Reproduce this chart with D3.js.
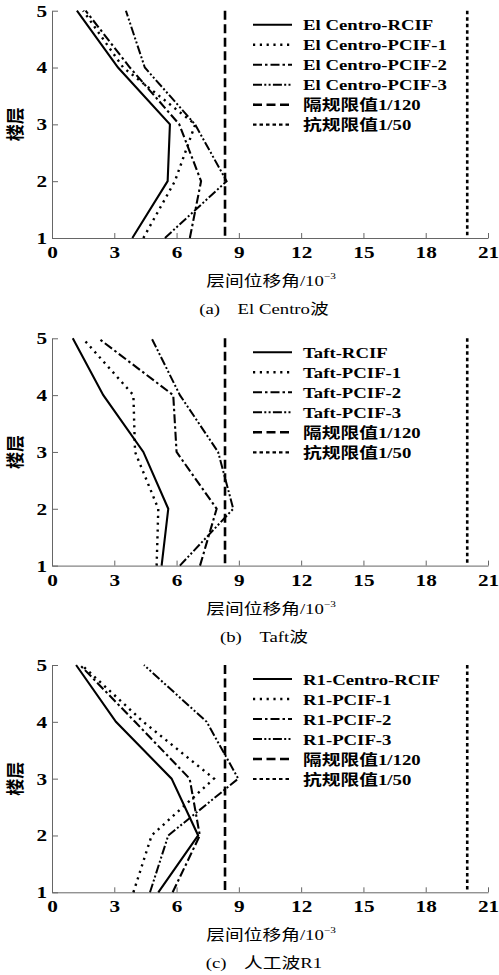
<!DOCTYPE html>
<html><head><meta charset="utf-8">
<script src="https://cdn.jsdelivr.net/npm/d3@7"></script>
<style>body{margin:0;background:#fff}svg{display:block}</style>
</head><body>
<script>
// ---- data ----
const floors = [1, 2, 3, 4, 5];
const xTicks = [0, 3, 6, 9, 12, 15, 18, 21];
const yTicks = [1, 2, 3, 4, 5];
const isoLimit = 1000 / 120;   // 隔规限值 1/120
const seisLimit = 1000 / 50;   // 抗规限值 1/50

// values per floor 1..5 (×10^-3)
const elCentroRCIF  = [3.87, 5.57, 5.68, 3.18, 1.20];
const elCentroPCIF1 = [4.40, 5.92, 6.90, 3.43, 1.50];
const elCentroPCIF2 = [6.64, 7.18, 6.13, 3.75, 1.62];
const elCentroPCIF3 = [5.44, 8.41, 6.89, 4.47, 3.56];

const taftRCIF  = [5.28, 5.60, 4.40, 2.47, 1.00];
const taftPCIF1 = [5.04, 5.12, 4.00, 3.92, 1.48];
const taftPCIF2 = [7.13, 7.93, 6.00, 5.84, 2.23];
const taftPCIF3 = [6.16, 8.73, 8.00, 6.16, 4.80];

const r1RCIF  = [5.12, 7.04, 5.76, 3.08, 1.16];
const r1PCIF1 = [3.92, 4.80, 7.80, 4.40, 1.43];
const r1PCIF2 = [5.81, 7.12, 6.63, 4.00, 1.35];
const r1PCIF3 = [4.72, 5.60, 8.97, 7.45, 4.43];

const namesA = ["El Centro-RCIF", "El Centro-PCIF-1", "El Centro-PCIF-2", "El Centro-PCIF-3"];
const namesB = ["Taft-RCIF", "Taft-PCIF-1", "Taft-PCIF-2", "Taft-PCIF-3"];
const namesC = ["R1-Centro-RCIF", "R1-PCIF-1", "R1-PCIF-2", "R1-PCIF-3"];
const limitNames = ["隔规限值1/120", "抗规限值1/50"];
const captionTags = ["(a)", "(b)", "(c)"];
const captionTexts = ["El Centro波", "Taft波", "人工波R1"];
const xTitle = "层间位移角/10";
const xTitleSup = "−3";
const yTitle = "楼层";

const panelData = [
  [elCentroRCIF, elCentroPCIF1, elCentroPCIF2, elCentroPCIF3],
  [taftRCIF, taftPCIF1, taftPCIF2, taftPCIF3],
  [r1RCIF, r1PCIF1, r1PCIF2, r1PCIF3]
];
const panelNames = [namesA, namesB, namesC];

// ---- styles ----
const FONT = "'Liberation Serif','Times New Roman','Noto Sans CJK SC',serif";
const SX = 1.25;
const seriesStyle = [
  {w: 2.1, dash: null},
  {w: 2.4, dash: "2.2,4.6"},
  {w: 2.1, dash: "9,3,2.5,3"},
  {w: 2.0, dash: "9,2.3,2,2.3,2,2.3"}
];
const isoStyle = {w: 2.6, dash: "9,4.5"};
const seisStyle = {w: 2.6, dash: "3.5,3"};

const W = 499, H = 975;
const svg = d3.select("body").append("svg").attr("width", W).attr("height", H)
  .style("font-family", FONT);

const left = 52, right = 488;
const panelTops = [10.7, 338.3, 665];
const plotH = 227.3;

const x = d3.scaleLinear().domain([0, 21]).range([left, right]);

panelTops.forEach((top, pi) => {
  const bottom = top + plotH;
  const y = d3.scaleLinear().domain([1, 5]).range([bottom, top]);
  const g = svg.append("g");

  // axes
  const ax = g.append("g").attr("transform", `translate(0,${bottom})`)
    .call(d3.axisBottom(x).tickValues(xTicks).tickSizeInner(-5).tickSizeOuter(0).tickPadding(8).tickFormat(d3.format("d")));
  const ay = g.append("g").attr("transform", `translate(${left},0)`)
    .call(d3.axisLeft(y).tickValues(yTicks).tickSizeInner(-6).tickSizeOuter(0).tickPadding(4).tickFormat(d3.format("d")));
  [ax, ay].forEach(a => {
    a.select(".domain").attr("stroke", "#666").attr("stroke-width", 1);
    a.selectAll(".tick line").attr("stroke", "#666").attr("stroke-width", 1);
    a.selectAll(".tick text").attr("fill", "#000").style("font-family", FONT)
      .style("font-size", "17px").style("font-weight", "bold")
      .attr("transform", `scale(${SX},1)`);
  });

  // limit lines
  const vline = (v, st) => g.append("line")
    .attr("x1", x(v)).attr("x2", x(v)).attr("y1", y(5)).attr("y2", y(1))
    .attr("stroke", "#000").attr("stroke-width", st.w).attr("stroke-dasharray", st.dash);
  vline(isoLimit, isoStyle);
  vline(seisLimit, seisStyle);

  // series lines
  const line = d3.line().x(d => x(d[0])).y(d => y(d[1]));
  panelData[pi].forEach((vals, si) => {
    const pts = vals.map((v, i) => [v, floors[i]]);
    g.append("path").attr("d", line(pts)).attr("fill", "none")
      .attr("stroke", "#000").attr("stroke-width", seriesStyle[si].w)
      .attr("stroke-dasharray", seriesStyle[si].dash)
      .attr("stroke-linejoin", "miter");
  });

  // legend
  const legItems = panelNames[pi].map((n, i) => ({name: n, st: seriesStyle[i]}))
    .concat([{name: limitNames[0], st: isoStyle}, {name: limitNames[1], st: {w: 2.2, dash: "3.5,3"}}]);
  legItems.forEach((it, i) => {
    const ly = top + 14 + i * 20;
    g.append("line").attr("x1", 253).attr("x2", 292).attr("y1", ly).attr("y2", ly)
      .attr("stroke", "#000").attr("stroke-width", it.st.w).attr("stroke-dasharray", it.st.dash);
    g.append("text").attr("transform", `translate(303,${ly + 5.5}) scale(${SX},1)`)
      .style("font-size", "15px").style("font-weight", "bold").text(it.name);
  });

  // y title
  g.append("text").attr("transform", `translate(22,${(top + bottom) / 2}) rotate(-90) scale(1,1.1)`)
    .attr("text-anchor", "middle").style("font-size", "17px").style("font-weight", "bold").text(yTitle);

  // x title
  const xt = g.append("text").attr("transform", `translate(271,${bottom + 48}) scale(${SX},1)`)
    .attr("text-anchor", "middle").style("font-size", "15px");
  xt.append("tspan").text(xTitle);
  xt.append("tspan").attr("dy", -7).style("font-size", "9px").text(xTitleSup);

  // caption
  const cap = g.append("text").attr("transform", `translate(264,${bottom + 76}) scale(${SX},1)`)
    .attr("text-anchor", "middle").style("font-size", "15px");
  cap.append("tspan").text(captionTags[pi]);
  cap.append("tspan").attr("dx", 14).text(captionTexts[pi]);
});
</script>
</body></html>
